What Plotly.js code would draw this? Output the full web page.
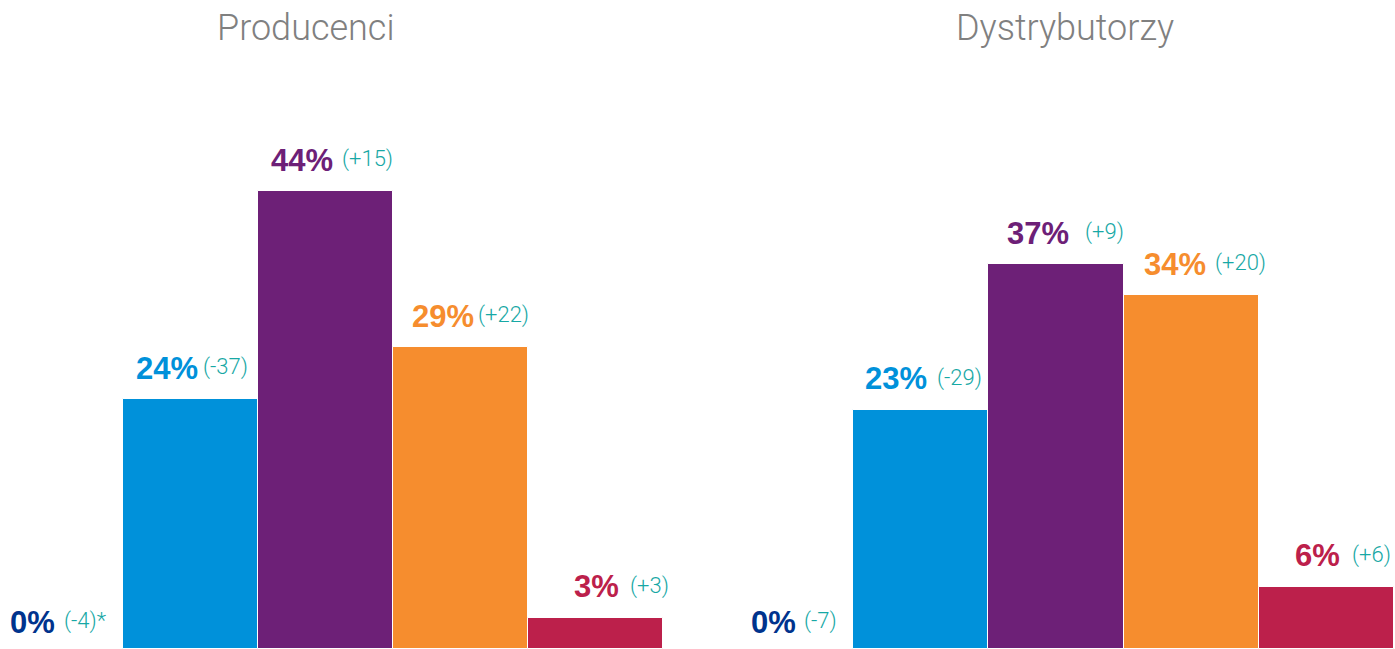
<!DOCTYPE html>
<html>
<head>
<meta charset="utf-8">
<script src="https://cdn.plot.ly/plotly-3.0.1.min.js"></script>
<style>html,body{margin:0;padding:0;background:#fff;}#chart{width:1395px;height:649px;}</style>
</head>
<body>
<div id="chart"></div>
<script>
// ---- data ----
const categories = ['Kategoria 1', 'Kategoria 2', 'Kategoria 3', 'Kategoria 4', 'Kategoria 5'];
const panelTitles = ['Producenci', 'Dystrybutorzy'];
const producenciValues = [0, 24, 44, 29, 3];
const producenciChanges = ['(-4)*', '(-37)', '(+15)', '(+22)', '(+3)'];
const dystrybutorzyValues = [0, 23, 37, 34, 6];
const dystrybutorzyChanges = ['(-7)', '(-29)', '(+9)', '(+20)', '(+6)'];

// ---- styles ----
const barColors = ['#00338D', '#0091DA', '#6D2077', '#F68D2E', '#BC204B'];
const changeColor = '#17A8A5';
const titleColor = '#808080';
// label horizontal offsets (px) relative to bar centre
const pctShiftL = [1, 9, 9, 15, 25];
const chgShiftL = [6, 10, 14, 15, 32];
const pctShiftR = [12, 8, 15, 17, 16];
const chgShiftR = [16, 14, 27, 22, 24];

const idx = categories.map((c, i) => i);

function barTrace(values, xa, ya) {
  return {
    type: 'bar',
    x: idx,
    y: values,
    xaxis: xa,
    yaxis: ya,
    customdata: categories,
    hovertemplate: '%{customdata}: %{y}%<extra></extra>',
    marker: { color: barColors, line: { color: '#ffffff', width: 1 } },
    showlegend: false
  };
}

function labels(values, changes, xref, yref, pctShift, chgShift) {
  const out = [];
  values.forEach((v, i) => {
    const ys = v === 0 ? 27 : 31;
    out.push({
      x: i, y: v, xref: xref, yref: yref,
      text: '<b>' + v + '%</b>',
      showarrow: false, xanchor: 'right', yanchor: 'middle',
      xshift: pctShift[i], yshift: ys,
      font: { family: 'Liberation Sans, Arial, sans-serif', size: 31, color: barColors[i] }
    });
    out.push({
      x: i, y: v, xref: xref, yref: yref,
      text: changes[i],
      showarrow: false, xanchor: 'left', yanchor: 'middle',
      xshift: chgShift[i], yshift: ys + 1,
      font: { family: 'Roboto, Liberation Sans, sans-serif', size: 22, weight: 300, color: changeColor }
    });
  });
  return out;
}

const yRange = [0, 62.4];

const layout = {
  width: 1395,
  height: 649,
  margin: { l: 0, r: 0, t: 0, b: 0 },
  paper_bgcolor: '#ffffff',
  plot_bgcolor: '#ffffff',
  bargap: 0,
  xaxis: { domain: [0, 663 / 1395], range: [-0.5 + 12 / 135, 4.5], visible: false, fixedrange: true },
  yaxis: { domain: [0, 1], range: yRange, visible: false, fixedrange: true },
  xaxis2: { domain: [718 / 1395, 1394 / 1395], range: [-0.5, 4.5], visible: false, fixedrange: true, anchor: 'y2' },
  yaxis2: { domain: [0, 1], range: yRange, visible: false, fixedrange: true, anchor: 'x2' },
  annotations: [
    {
      xref: 'paper', yref: 'paper', x: 306 / 1395, y: 1 - 28 / 649,
      text: panelTitles[0], showarrow: false, xanchor: 'center', yanchor: 'middle',
      font: { family: 'Roboto, Liberation Sans, sans-serif', size: 36, weight: 300, color: titleColor }
    },
    {
      xref: 'paper', yref: 'paper', x: 1065 / 1395, y: 1 - 28 / 649,
      text: panelTitles[1], showarrow: false, xanchor: 'center', yanchor: 'middle',
      font: { family: 'Roboto, Liberation Sans, sans-serif', size: 36, weight: 300, color: titleColor }
    }
  ].concat(
    labels(producenciValues, producenciChanges, 'x', 'y', pctShiftL, chgShiftL),
    labels(dystrybutorzyValues, dystrybutorzyChanges, 'x2', 'y2', pctShiftR, chgShiftR)
  )
};

Plotly.newPlot('chart', [
  barTrace(producenciValues, 'x', 'y'),
  barTrace(dystrybutorzyValues, 'x2', 'y2')
], layout, { displayModeBar: false });
</script>
</body>
</html>
